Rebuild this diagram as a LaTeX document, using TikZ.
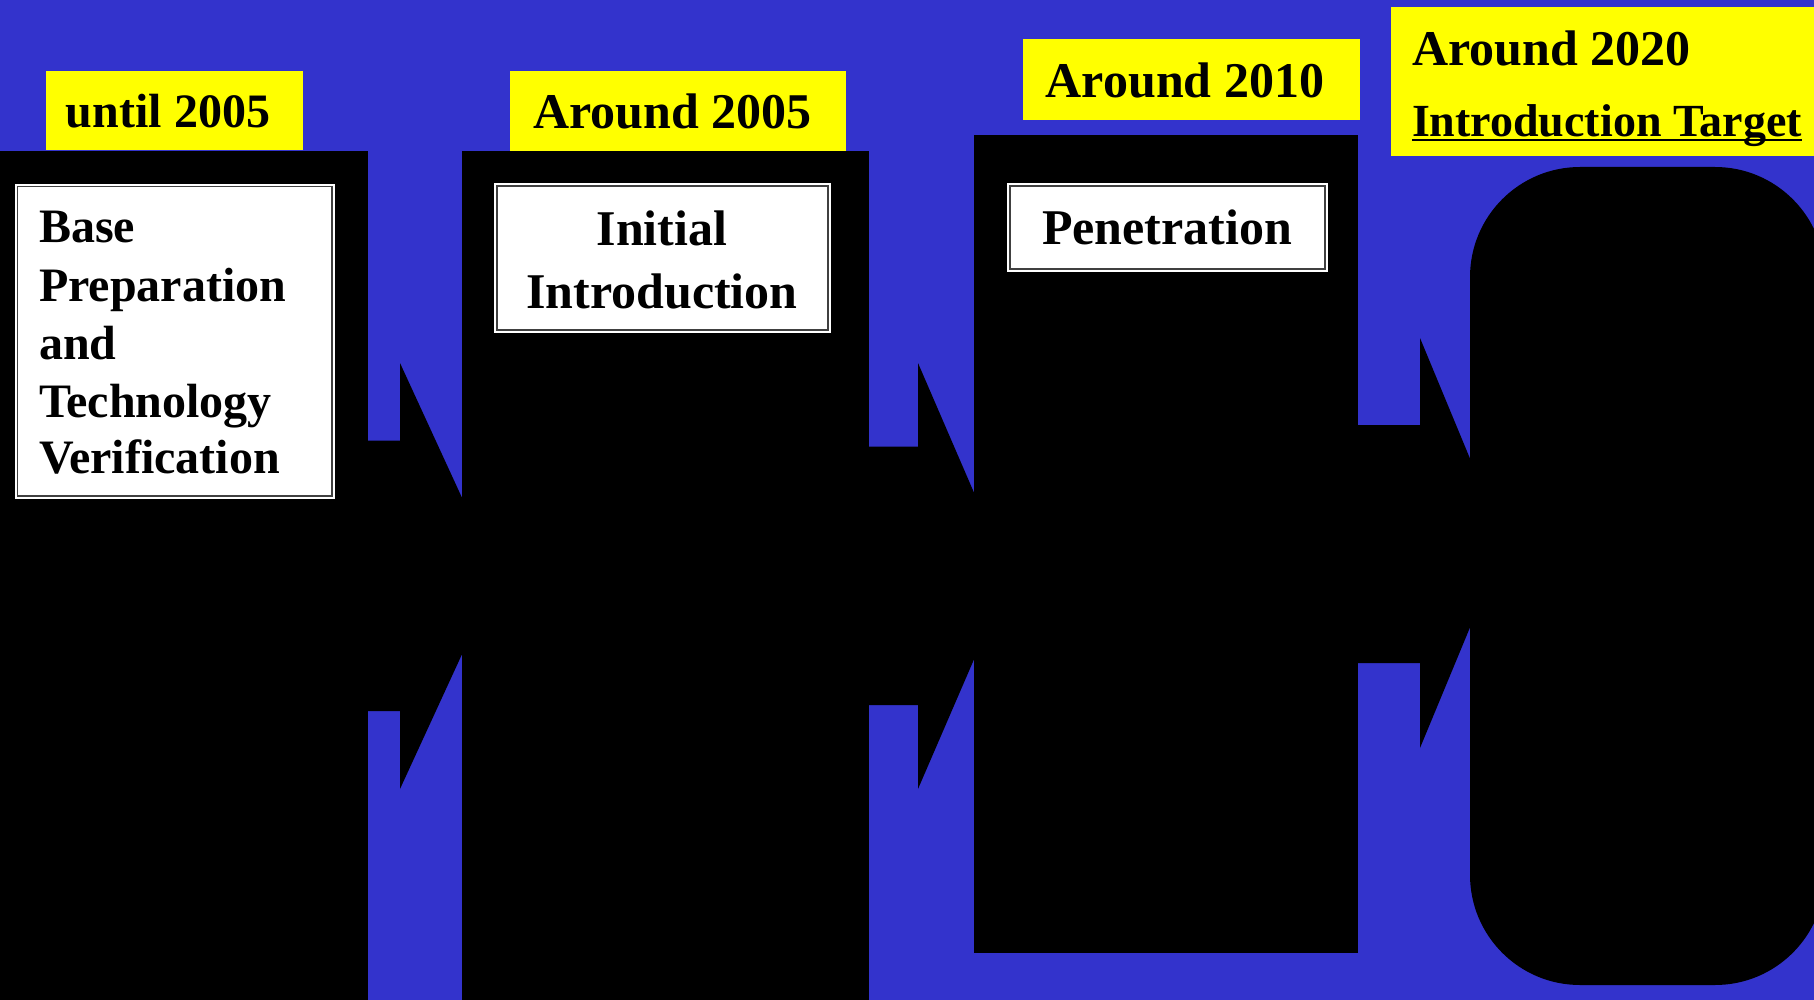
\documentclass[tikz,border=0pt]{standalone}
\usepackage{fontspec}
\setmainfont{Liberation Serif}
\definecolor{bgblue}{RGB}{51,51,204}
\definecolor{lblyellow}{RGB}{255,255,0}
\begin{document}
\begin{tikzpicture}[x=1pt,y=-1pt,
  every node/.style={inner sep=0pt, outer sep=0pt},
  col/.style={fill=black, anchor=north west},
  yel/.style={fill=lblyellow, anchor=north west},
  wbox/.style={fill=white, draw=white, double=black!75, double distance=1.2pt, line width=2pt, anchor=north west},
  txtA/.style={font=\fontsize{50}{60}\selectfont\bfseries, text=black},
  txtB/.style={font=\fontsize{48}{58}\selectfont\bfseries, text=black},
  txtC/.style={font=\fontsize{46}{55}\selectfont\bfseries, text=black},
  blockarrow/.style={fill=black}]
\useasboundingbox (0,0) rectangle (1814,1000);
\clip (0,0) rectangle (1814,1000);
\fill[bgblue] (0,0) rectangle (1814,1000);

% block arrows (drawn behind the columns)
\fill[blockarrow] (360,440.7) -- (400,440.7) -- (400,363) -- (498,576) -- (400,789) -- (400,711) -- (360,711) -- cycle;
\fill[blockarrow] (860,446.7) -- (918,446.7) -- (918,363) -- (1010,576) -- (918,789) -- (918,705) -- (860,705) -- cycle;
\fill[blockarrow] (1350,425) -- (1420,425) -- (1420,338) -- (1505,543) -- (1420,748) -- (1420,663) -- (1350,663) -- cycle;

% columns
\node[col, minimum width=373pt, minimum height=860pt] (c1) at (-5,151) {};
\node[col, minimum width=407pt, minimum height=860pt] (c2) at (462,151) {};
\node[col, minimum width=384pt, minimum height=818pt] (c3) at (974,135) {};
\node[col, rounded corners=110pt, minimum width=355pt, minimum height=818pt] (c4) at (1470,167) {};

% yellow labels
\node[yel, minimum width=257pt, minimum height=79pt] (y1) at (46,71) {};
\node[yel, minimum width=336pt, minimum height=80pt] (y2) at (510,71) {};
\node[yel, minimum width=337pt, minimum height=81pt] (y3) at (1023,39) {};
\node[yel, minimum width=430pt, minimum height=149pt] (y4) at (1391,7) {};

\node[txtB, anchor=base] (y1t) at (168,128) {until 2005};
\node[txtA, anchor=base] (y2t) at (672.5,129) {Around 2005};
\node[txtA, anchor=base] (y3t) at (1185,98) {Around 2010};
\node[txtA, anchor=base west] (y4t) at (1412,66) {Around 2020};
\node[txtC, anchor=base west] (y4u) at (1412,137) {Introduction Target};
\draw[line width=2pt] ([yshift=-3pt]y4u.base west) -- ([yshift=-3pt]y4u.base east);

% white boxes
\node[wbox, minimum width=314.5pt, minimum height=309.5pt] (w1) at (17.5,186.5) {};
\node[wbox, minimum width=331pt, minimum height=144pt] (w2) at (497,186) {};
\node[wbox, minimum width=315pt, minimum height=83pt] (w3) at (1010,186) {};

\node[txtB, anchor=base west] (w1a) at (39,243) {Base};
\node[txtB, anchor=base west] (w1b) at (39,301.5) {Preparation};
\node[txtB, anchor=base west] (w1c) at (39,359.5) {and};
\node[txtB, anchor=base west] (w1d) at (39,417) {Technology};
\node[txtB, anchor=base west] (w1e) at (39,473.5) {Verification};

\node[txtA, anchor=base] (w2a) at (662,246) {Initial};
\node[txtA, anchor=base] (w2b) at (662,308) {Introduction};

\node[txtA, anchor=base] (w3a) at (1167,245) {Penetration};
\end{tikzpicture}
\end{document}
